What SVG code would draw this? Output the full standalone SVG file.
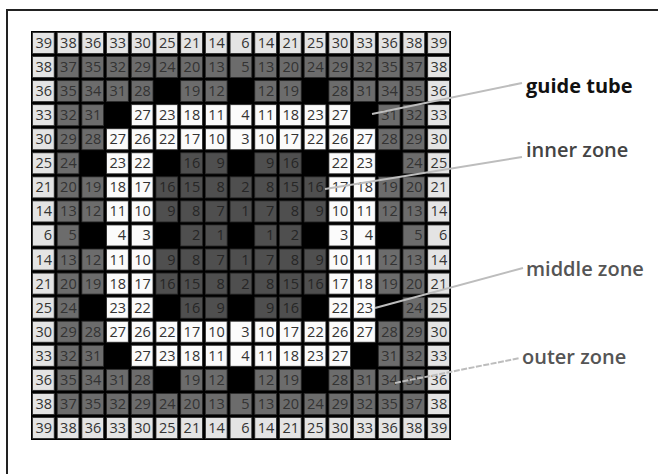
<svg xmlns="http://www.w3.org/2000/svg" width="658" height="474" viewBox="0 0 658 474">
<style>
rect.c{stroke:#2a2a2a;stroke-width:0.8;width:21.7px;height:21px}
.L{fill:#e4e4e4}.W{fill:#fbfbfb}.M{fill:#6c6c6c}.D{fill:#4f4f4f}
text.n{font-family:"Open Sans","Liberation Sans",sans-serif;font-size:14.5px;text-anchor:end;fill:#333}
text.d{fill:#262626}
.lab{font-family:"Open Sans","Liberation Sans",sans-serif;font-size:20px}
.lead{stroke:#bdbdbd;stroke-width:2;fill:none}
</style>
<path d="M7,474 V10 H658" fill="none" stroke="#222" stroke-width="2"/>
<g id="grid">
<rect x="31" y="31" width="420" height="409" fill="#000"/>
<g id="r0" transform="translate(0,32.5)">
<rect class="c L" x="32.5" y="0"/><rect class="c L" x="57.2" y="0"/><rect class="c L" x="81.9" y="0"/><rect class="c L" x="106.6" y="0"/><rect class="c L" x="131.3" y="0"/><rect class="c L" x="156" y="0"/><rect class="c L" x="180.7" y="0"/><rect class="c L" x="205.4" y="0"/><rect class="c L" x="230.1" y="0"/><rect class="c L" x="254.8" y="0"/><rect class="c L" x="279.5" y="0"/><rect class="c L" x="304.2" y="0"/><rect class="c L" x="328.9" y="0"/><rect class="c L" x="353.6" y="0"/><rect class="c L" x="378.3" y="0"/><rect class="c L" x="403" y="0"/><rect class="c L" x="427.7" y="0"/>
<text class="n" y="15.5"><tspan x="52">39</tspan><tspan x="76.7">38</tspan><tspan x="101.4">36</tspan><tspan x="126.1">33</tspan><tspan x="150.8">30</tspan><tspan x="175.5">25</tspan><tspan x="200.2">21</tspan><tspan x="224.9">14</tspan><tspan x="249.6">6</tspan><tspan x="274.3">14</tspan><tspan x="299">21</tspan><tspan x="323.7">25</tspan><tspan x="348.4">30</tspan><tspan x="373.1">33</tspan><tspan x="397.8">36</tspan><tspan x="422.5">38</tspan><tspan x="447.2">39</tspan></text>
</g>
<g id="r1" transform="translate(0,56.56)">
<rect class="c L" x="32.5" y="0"/><rect class="c M" x="57.2" y="0"/><rect class="c M" x="81.9" y="0"/><rect class="c M" x="106.6" y="0"/><rect class="c M" x="131.3" y="0"/><rect class="c M" x="156" y="0"/><rect class="c M" x="180.7" y="0"/><rect class="c M" x="205.4" y="0"/><rect class="c M" x="230.1" y="0"/><rect class="c M" x="254.8" y="0"/><rect class="c M" x="279.5" y="0"/><rect class="c M" x="304.2" y="0"/><rect class="c M" x="328.9" y="0"/><rect class="c M" x="353.6" y="0"/><rect class="c M" x="378.3" y="0"/><rect class="c M" x="403" y="0"/><rect class="c L" x="427.7" y="0"/>
<text class="n" y="15.5"><tspan x="52">38</tspan><tspan x="76.7">37</tspan><tspan x="101.4">35</tspan><tspan x="126.1">32</tspan><tspan x="150.8">29</tspan><tspan x="175.5">24</tspan><tspan x="200.2">20</tspan><tspan x="224.9">13</tspan><tspan x="249.6">5</tspan><tspan x="274.3">13</tspan><tspan x="299">20</tspan><tspan x="323.7">24</tspan><tspan x="348.4">29</tspan><tspan x="373.1">32</tspan><tspan x="397.8">35</tspan><tspan x="422.5">37</tspan><tspan x="447.2">38</tspan></text>
</g>
<g id="r2" transform="translate(0,80.62)">
<rect class="c L" x="32.5" y="0"/><rect class="c M" x="57.2" y="0"/><rect class="c M" x="81.9" y="0"/><rect class="c M" x="106.6" y="0"/><rect class="c M" x="131.3" y="0"/><rect class="c M" x="180.7" y="0"/><rect class="c M" x="205.4" y="0"/><rect class="c M" x="254.8" y="0"/><rect class="c M" x="279.5" y="0"/><rect class="c M" x="328.9" y="0"/><rect class="c M" x="353.6" y="0"/><rect class="c M" x="378.3" y="0"/><rect class="c M" x="403" y="0"/><rect class="c L" x="427.7" y="0"/>
<text class="n" y="15.5"><tspan x="52">36</tspan><tspan x="76.7">35</tspan><tspan x="101.4">34</tspan><tspan x="126.1">31</tspan><tspan x="150.8">28</tspan><tspan x="200.2">19</tspan><tspan x="224.9">12</tspan><tspan x="274.3">12</tspan><tspan x="299">19</tspan><tspan x="348.4">28</tspan><tspan x="373.1">31</tspan><tspan x="397.8">34</tspan><tspan x="422.5">35</tspan><tspan x="447.2">36</tspan></text>
</g>
<g id="r3" transform="translate(0,104.68)">
<rect class="c L" x="32.5" y="0"/><rect class="c M" x="57.2" y="0"/><rect class="c M" x="81.9" y="0"/><rect class="c W" x="131.3" y="0"/><rect class="c W" x="156" y="0"/><rect class="c W" x="180.7" y="0"/><rect class="c W" x="205.4" y="0"/><rect class="c W" x="230.1" y="0"/><rect class="c W" x="254.8" y="0"/><rect class="c W" x="279.5" y="0"/><rect class="c W" x="304.2" y="0"/><rect class="c W" x="328.9" y="0"/><rect class="c M" x="378.3" y="0"/><rect class="c M" x="403" y="0"/><rect class="c L" x="427.7" y="0"/>
<text class="n" y="15.5"><tspan x="52">33</tspan><tspan x="76.7">32</tspan><tspan x="101.4">31</tspan><tspan x="150.8">27</tspan><tspan x="175.5">23</tspan><tspan x="200.2">18</tspan><tspan x="224.9">11</tspan><tspan x="249.6">4</tspan><tspan x="274.3">11</tspan><tspan x="299">18</tspan><tspan x="323.7">23</tspan><tspan x="348.4">27</tspan><tspan x="397.8">31</tspan><tspan x="422.5">32</tspan><tspan x="447.2">33</tspan></text>
</g>
<g id="r4" transform="translate(0,128.74)">
<rect class="c L" x="32.5" y="0"/><rect class="c M" x="57.2" y="0"/><rect class="c M" x="81.9" y="0"/><rect class="c W" x="106.6" y="0"/><rect class="c W" x="131.3" y="0"/><rect class="c W" x="156" y="0"/><rect class="c W" x="180.7" y="0"/><rect class="c W" x="205.4" y="0"/><rect class="c W" x="230.1" y="0"/><rect class="c W" x="254.8" y="0"/><rect class="c W" x="279.5" y="0"/><rect class="c W" x="304.2" y="0"/><rect class="c W" x="328.9" y="0"/><rect class="c W" x="353.6" y="0"/><rect class="c M" x="378.3" y="0"/><rect class="c M" x="403" y="0"/><rect class="c L" x="427.7" y="0"/>
<text class="n" y="15.5"><tspan x="52">30</tspan><tspan x="76.7">29</tspan><tspan x="101.4">28</tspan><tspan x="126.1">27</tspan><tspan x="150.8">26</tspan><tspan x="175.5">22</tspan><tspan x="200.2">17</tspan><tspan x="224.9">10</tspan><tspan x="249.6">3</tspan><tspan x="274.3">10</tspan><tspan x="299">17</tspan><tspan x="323.7">22</tspan><tspan x="348.4">26</tspan><tspan x="373.1">27</tspan><tspan x="397.8">28</tspan><tspan x="422.5">29</tspan><tspan x="447.2">30</tspan></text>
</g>
<g id="r5" transform="translate(0,152.8)">
<rect class="c L" x="32.5" y="0"/><rect class="c M" x="57.2" y="0"/><rect class="c W" x="106.6" y="0"/><rect class="c W" x="131.3" y="0"/><rect class="c D" x="180.7" y="0"/><rect class="c D" x="205.4" y="0"/><rect class="c D" x="254.8" y="0"/><rect class="c D" x="279.5" y="0"/><rect class="c W" x="328.9" y="0"/><rect class="c W" x="353.6" y="0"/><rect class="c M" x="403" y="0"/><rect class="c L" x="427.7" y="0"/>
<text class="n" y="15.5"><tspan x="52">25</tspan><tspan x="76.7">24</tspan><tspan x="126.1">23</tspan><tspan x="150.8">22</tspan><tspan x="348.4">22</tspan><tspan x="373.1">23</tspan><tspan x="422.5">24</tspan><tspan x="447.2">25</tspan></text>
<text class="n d" y="15.5"><tspan x="200.2">16</tspan><tspan x="224.9">9</tspan><tspan x="274.3">9</tspan><tspan x="299">16</tspan></text>
</g>
<g id="r6" transform="translate(0,176.86)">
<rect class="c L" x="32.5" y="0"/><rect class="c M" x="57.2" y="0"/><rect class="c M" x="81.9" y="0"/><rect class="c W" x="106.6" y="0"/><rect class="c W" x="131.3" y="0"/><rect class="c D" x="156" y="0"/><rect class="c D" x="180.7" y="0"/><rect class="c D" x="205.4" y="0"/><rect class="c D" x="230.1" y="0"/><rect class="c D" x="254.8" y="0"/><rect class="c D" x="279.5" y="0"/><rect class="c D" x="304.2" y="0"/><rect class="c W" x="328.9" y="0"/><rect class="c W" x="353.6" y="0"/><rect class="c M" x="378.3" y="0"/><rect class="c M" x="403" y="0"/><rect class="c L" x="427.7" y="0"/>
<text class="n" y="15.5"><tspan x="52">21</tspan><tspan x="76.7">20</tspan><tspan x="101.4">19</tspan><tspan x="126.1">18</tspan><tspan x="150.8">17</tspan><tspan x="348.4">17</tspan><tspan x="373.1">18</tspan><tspan x="397.8">19</tspan><tspan x="422.5">20</tspan><tspan x="447.2">21</tspan></text>
<text class="n d" y="15.5"><tspan x="175.5">16</tspan><tspan x="200.2">15</tspan><tspan x="224.9">8</tspan><tspan x="249.6">2</tspan><tspan x="274.3">8</tspan><tspan x="299">15</tspan><tspan x="323.7">16</tspan></text>
</g>
<g id="r7" transform="translate(0,200.92)">
<rect class="c L" x="32.5" y="0"/><rect class="c M" x="57.2" y="0"/><rect class="c M" x="81.9" y="0"/><rect class="c W" x="106.6" y="0"/><rect class="c W" x="131.3" y="0"/><rect class="c D" x="156" y="0"/><rect class="c D" x="180.7" y="0"/><rect class="c D" x="205.4" y="0"/><rect class="c D" x="230.1" y="0"/><rect class="c D" x="254.8" y="0"/><rect class="c D" x="279.5" y="0"/><rect class="c D" x="304.2" y="0"/><rect class="c W" x="328.9" y="0"/><rect class="c W" x="353.6" y="0"/><rect class="c M" x="378.3" y="0"/><rect class="c M" x="403" y="0"/><rect class="c L" x="427.7" y="0"/>
<text class="n" y="15.5"><tspan x="52">14</tspan><tspan x="76.7">13</tspan><tspan x="101.4">12</tspan><tspan x="126.1">11</tspan><tspan x="150.8">10</tspan><tspan x="348.4">10</tspan><tspan x="373.1">11</tspan><tspan x="397.8">12</tspan><tspan x="422.5">13</tspan><tspan x="447.2">14</tspan></text>
<text class="n d" y="15.5"><tspan x="175.5">9</tspan><tspan x="200.2">8</tspan><tspan x="224.9">7</tspan><tspan x="249.6">1</tspan><tspan x="274.3">7</tspan><tspan x="299">8</tspan><tspan x="323.7">9</tspan></text>
</g>
<g id="r8" transform="translate(0,224.98)">
<rect class="c L" x="32.5" y="0"/><rect class="c M" x="57.2" y="0"/><rect class="c W" x="106.6" y="0"/><rect class="c W" x="131.3" y="0"/><rect class="c D" x="180.7" y="0"/><rect class="c D" x="205.4" y="0"/><rect class="c D" x="254.8" y="0"/><rect class="c D" x="279.5" y="0"/><rect class="c W" x="328.9" y="0"/><rect class="c W" x="353.6" y="0"/><rect class="c M" x="403" y="0"/><rect class="c L" x="427.7" y="0"/>
<text class="n" y="15.5"><tspan x="52">6</tspan><tspan x="76.7">5</tspan><tspan x="126.1">4</tspan><tspan x="150.8">3</tspan><tspan x="348.4">3</tspan><tspan x="373.1">4</tspan><tspan x="422.5">5</tspan><tspan x="447.2">6</tspan></text>
<text class="n d" y="15.5"><tspan x="200.2">2</tspan><tspan x="224.9">1</tspan><tspan x="274.3">1</tspan><tspan x="299">2</tspan></text>
</g>
<g id="r9" transform="translate(0,249.04)">
<rect class="c L" x="32.5" y="0"/><rect class="c M" x="57.2" y="0"/><rect class="c M" x="81.9" y="0"/><rect class="c W" x="106.6" y="0"/><rect class="c W" x="131.3" y="0"/><rect class="c D" x="156" y="0"/><rect class="c D" x="180.7" y="0"/><rect class="c D" x="205.4" y="0"/><rect class="c D" x="230.1" y="0"/><rect class="c D" x="254.8" y="0"/><rect class="c D" x="279.5" y="0"/><rect class="c D" x="304.2" y="0"/><rect class="c W" x="328.9" y="0"/><rect class="c W" x="353.6" y="0"/><rect class="c M" x="378.3" y="0"/><rect class="c M" x="403" y="0"/><rect class="c L" x="427.7" y="0"/>
<text class="n" y="15.5"><tspan x="52">14</tspan><tspan x="76.7">13</tspan><tspan x="101.4">12</tspan><tspan x="126.1">11</tspan><tspan x="150.8">10</tspan><tspan x="348.4">10</tspan><tspan x="373.1">11</tspan><tspan x="397.8">12</tspan><tspan x="422.5">13</tspan><tspan x="447.2">14</tspan></text>
<text class="n d" y="15.5"><tspan x="175.5">9</tspan><tspan x="200.2">8</tspan><tspan x="224.9">7</tspan><tspan x="249.6">1</tspan><tspan x="274.3">7</tspan><tspan x="299">8</tspan><tspan x="323.7">9</tspan></text>
</g>
<g id="r10" transform="translate(0,273.1)">
<rect class="c L" x="32.5" y="0"/><rect class="c M" x="57.2" y="0"/><rect class="c M" x="81.9" y="0"/><rect class="c W" x="106.6" y="0"/><rect class="c W" x="131.3" y="0"/><rect class="c D" x="156" y="0"/><rect class="c D" x="180.7" y="0"/><rect class="c D" x="205.4" y="0"/><rect class="c D" x="230.1" y="0"/><rect class="c D" x="254.8" y="0"/><rect class="c D" x="279.5" y="0"/><rect class="c D" x="304.2" y="0"/><rect class="c W" x="328.9" y="0"/><rect class="c W" x="353.6" y="0"/><rect class="c M" x="378.3" y="0"/><rect class="c M" x="403" y="0"/><rect class="c L" x="427.7" y="0"/>
<text class="n" y="15.5"><tspan x="52">21</tspan><tspan x="76.7">20</tspan><tspan x="101.4">19</tspan><tspan x="126.1">18</tspan><tspan x="150.8">17</tspan><tspan x="348.4">17</tspan><tspan x="373.1">18</tspan><tspan x="397.8">19</tspan><tspan x="422.5">20</tspan><tspan x="447.2">21</tspan></text>
<text class="n d" y="15.5"><tspan x="175.5">16</tspan><tspan x="200.2">15</tspan><tspan x="224.9">8</tspan><tspan x="249.6">2</tspan><tspan x="274.3">8</tspan><tspan x="299">15</tspan><tspan x="323.7">16</tspan></text>
</g>
<g id="r11" transform="translate(0,297.16)">
<rect class="c L" x="32.5" y="0"/><rect class="c M" x="57.2" y="0"/><rect class="c W" x="106.6" y="0"/><rect class="c W" x="131.3" y="0"/><rect class="c D" x="180.7" y="0"/><rect class="c D" x="205.4" y="0"/><rect class="c D" x="254.8" y="0"/><rect class="c D" x="279.5" y="0"/><rect class="c W" x="328.9" y="0"/><rect class="c W" x="353.6" y="0"/><rect class="c M" x="403" y="0"/><rect class="c L" x="427.7" y="0"/>
<text class="n" y="15.5"><tspan x="52">25</tspan><tspan x="76.7">24</tspan><tspan x="126.1">23</tspan><tspan x="150.8">22</tspan><tspan x="348.4">22</tspan><tspan x="373.1">23</tspan><tspan x="422.5">24</tspan><tspan x="447.2">25</tspan></text>
<text class="n d" y="15.5"><tspan x="200.2">16</tspan><tspan x="224.9">9</tspan><tspan x="274.3">9</tspan><tspan x="299">16</tspan></text>
</g>
<g id="r12" transform="translate(0,321.22)">
<rect class="c L" x="32.5" y="0"/><rect class="c M" x="57.2" y="0"/><rect class="c M" x="81.9" y="0"/><rect class="c W" x="106.6" y="0"/><rect class="c W" x="131.3" y="0"/><rect class="c W" x="156" y="0"/><rect class="c W" x="180.7" y="0"/><rect class="c W" x="205.4" y="0"/><rect class="c W" x="230.1" y="0"/><rect class="c W" x="254.8" y="0"/><rect class="c W" x="279.5" y="0"/><rect class="c W" x="304.2" y="0"/><rect class="c W" x="328.9" y="0"/><rect class="c W" x="353.6" y="0"/><rect class="c M" x="378.3" y="0"/><rect class="c M" x="403" y="0"/><rect class="c L" x="427.7" y="0"/>
<text class="n" y="15.5"><tspan x="52">30</tspan><tspan x="76.7">29</tspan><tspan x="101.4">28</tspan><tspan x="126.1">27</tspan><tspan x="150.8">26</tspan><tspan x="175.5">22</tspan><tspan x="200.2">17</tspan><tspan x="224.9">10</tspan><tspan x="249.6">3</tspan><tspan x="274.3">10</tspan><tspan x="299">17</tspan><tspan x="323.7">22</tspan><tspan x="348.4">26</tspan><tspan x="373.1">27</tspan><tspan x="397.8">28</tspan><tspan x="422.5">29</tspan><tspan x="447.2">30</tspan></text>
</g>
<g id="r13" transform="translate(0,345.28)">
<rect class="c L" x="32.5" y="0"/><rect class="c M" x="57.2" y="0"/><rect class="c M" x="81.9" y="0"/><rect class="c W" x="131.3" y="0"/><rect class="c W" x="156" y="0"/><rect class="c W" x="180.7" y="0"/><rect class="c W" x="205.4" y="0"/><rect class="c W" x="230.1" y="0"/><rect class="c W" x="254.8" y="0"/><rect class="c W" x="279.5" y="0"/><rect class="c W" x="304.2" y="0"/><rect class="c W" x="328.9" y="0"/><rect class="c M" x="378.3" y="0"/><rect class="c M" x="403" y="0"/><rect class="c L" x="427.7" y="0"/>
<text class="n" y="15.5"><tspan x="52">33</tspan><tspan x="76.7">32</tspan><tspan x="101.4">31</tspan><tspan x="150.8">27</tspan><tspan x="175.5">23</tspan><tspan x="200.2">18</tspan><tspan x="224.9">11</tspan><tspan x="249.6">4</tspan><tspan x="274.3">11</tspan><tspan x="299">18</tspan><tspan x="323.7">23</tspan><tspan x="348.4">27</tspan><tspan x="397.8">31</tspan><tspan x="422.5">32</tspan><tspan x="447.2">33</tspan></text>
</g>
<g id="r14" transform="translate(0,369.34)">
<rect class="c L" x="32.5" y="0"/><rect class="c M" x="57.2" y="0"/><rect class="c M" x="81.9" y="0"/><rect class="c M" x="106.6" y="0"/><rect class="c M" x="131.3" y="0"/><rect class="c M" x="180.7" y="0"/><rect class="c M" x="205.4" y="0"/><rect class="c M" x="254.8" y="0"/><rect class="c M" x="279.5" y="0"/><rect class="c M" x="328.9" y="0"/><rect class="c M" x="353.6" y="0"/><rect class="c M" x="378.3" y="0"/><rect class="c M" x="403" y="0"/><rect class="c L" x="427.7" y="0"/>
<text class="n" y="15.5"><tspan x="52">36</tspan><tspan x="76.7">35</tspan><tspan x="101.4">34</tspan><tspan x="126.1">31</tspan><tspan x="150.8">28</tspan><tspan x="200.2">19</tspan><tspan x="224.9">12</tspan><tspan x="274.3">12</tspan><tspan x="299">19</tspan><tspan x="348.4">28</tspan><tspan x="373.1">31</tspan><tspan x="397.8">34</tspan><tspan x="422.5">35</tspan><tspan x="447.2">36</tspan></text>
</g>
<g id="r15" transform="translate(0,393.4)">
<rect class="c L" x="32.5" y="0"/><rect class="c M" x="57.2" y="0"/><rect class="c M" x="81.9" y="0"/><rect class="c M" x="106.6" y="0"/><rect class="c M" x="131.3" y="0"/><rect class="c M" x="156" y="0"/><rect class="c M" x="180.7" y="0"/><rect class="c M" x="205.4" y="0"/><rect class="c M" x="230.1" y="0"/><rect class="c M" x="254.8" y="0"/><rect class="c M" x="279.5" y="0"/><rect class="c M" x="304.2" y="0"/><rect class="c M" x="328.9" y="0"/><rect class="c M" x="353.6" y="0"/><rect class="c M" x="378.3" y="0"/><rect class="c M" x="403" y="0"/><rect class="c L" x="427.7" y="0"/>
<text class="n" y="15.5"><tspan x="52">38</tspan><tspan x="76.7">37</tspan><tspan x="101.4">35</tspan><tspan x="126.1">32</tspan><tspan x="150.8">29</tspan><tspan x="175.5">24</tspan><tspan x="200.2">20</tspan><tspan x="224.9">13</tspan><tspan x="249.6">5</tspan><tspan x="274.3">13</tspan><tspan x="299">20</tspan><tspan x="323.7">24</tspan><tspan x="348.4">29</tspan><tspan x="373.1">32</tspan><tspan x="397.8">35</tspan><tspan x="422.5">37</tspan><tspan x="447.2">38</tspan></text>
</g>
<g id="r16" transform="translate(0,417.46)">
<rect class="c L" x="32.5" y="0"/><rect class="c L" x="57.2" y="0"/><rect class="c L" x="81.9" y="0"/><rect class="c L" x="106.6" y="0"/><rect class="c L" x="131.3" y="0"/><rect class="c L" x="156" y="0"/><rect class="c L" x="180.7" y="0"/><rect class="c L" x="205.4" y="0"/><rect class="c L" x="230.1" y="0"/><rect class="c L" x="254.8" y="0"/><rect class="c L" x="279.5" y="0"/><rect class="c L" x="304.2" y="0"/><rect class="c L" x="328.9" y="0"/><rect class="c L" x="353.6" y="0"/><rect class="c L" x="378.3" y="0"/><rect class="c L" x="403" y="0"/><rect class="c L" x="427.7" y="0"/>
<text class="n" y="15.5"><tspan x="52">39</tspan><tspan x="76.7">38</tspan><tspan x="101.4">36</tspan><tspan x="126.1">33</tspan><tspan x="150.8">30</tspan><tspan x="175.5">25</tspan><tspan x="200.2">21</tspan><tspan x="224.9">14</tspan><tspan x="249.6">6</tspan><tspan x="274.3">14</tspan><tspan x="299">21</tspan><tspan x="323.7">25</tspan><tspan x="348.4">30</tspan><tspan x="373.1">33</tspan><tspan x="397.8">36</tspan><tspan x="422.5">38</tspan><tspan x="447.2">39</tspan></text>
</g>
</g>
<g id="connectors">
<path class="lead" d="M372,114 L522,83"/>
<path class="lead" d="M325,189 L522,157"/>
<path class="lead" d="M375,308 L523,268"/>
<path class="lead" d="M395,383 L520,358" stroke-dasharray="6 1.5"/>
</g>
<g id="label-guide-tube"><text class="lab" x="526" y="93" font-weight="700" fill="#111">guide tube</text></g>
<g id="label-inner-zone"><text class="lab" x="526" y="157" font-weight="600" fill="#444">inner zone</text></g>
<g id="label-middle-zone"><text class="lab" x="526" y="276" font-weight="600" fill="#555">middle zone</text></g>
<g id="label-outer-zone"><text class="lab" x="522" y="364" font-weight="600" fill="#555">outer zone</text></g>
</svg>
